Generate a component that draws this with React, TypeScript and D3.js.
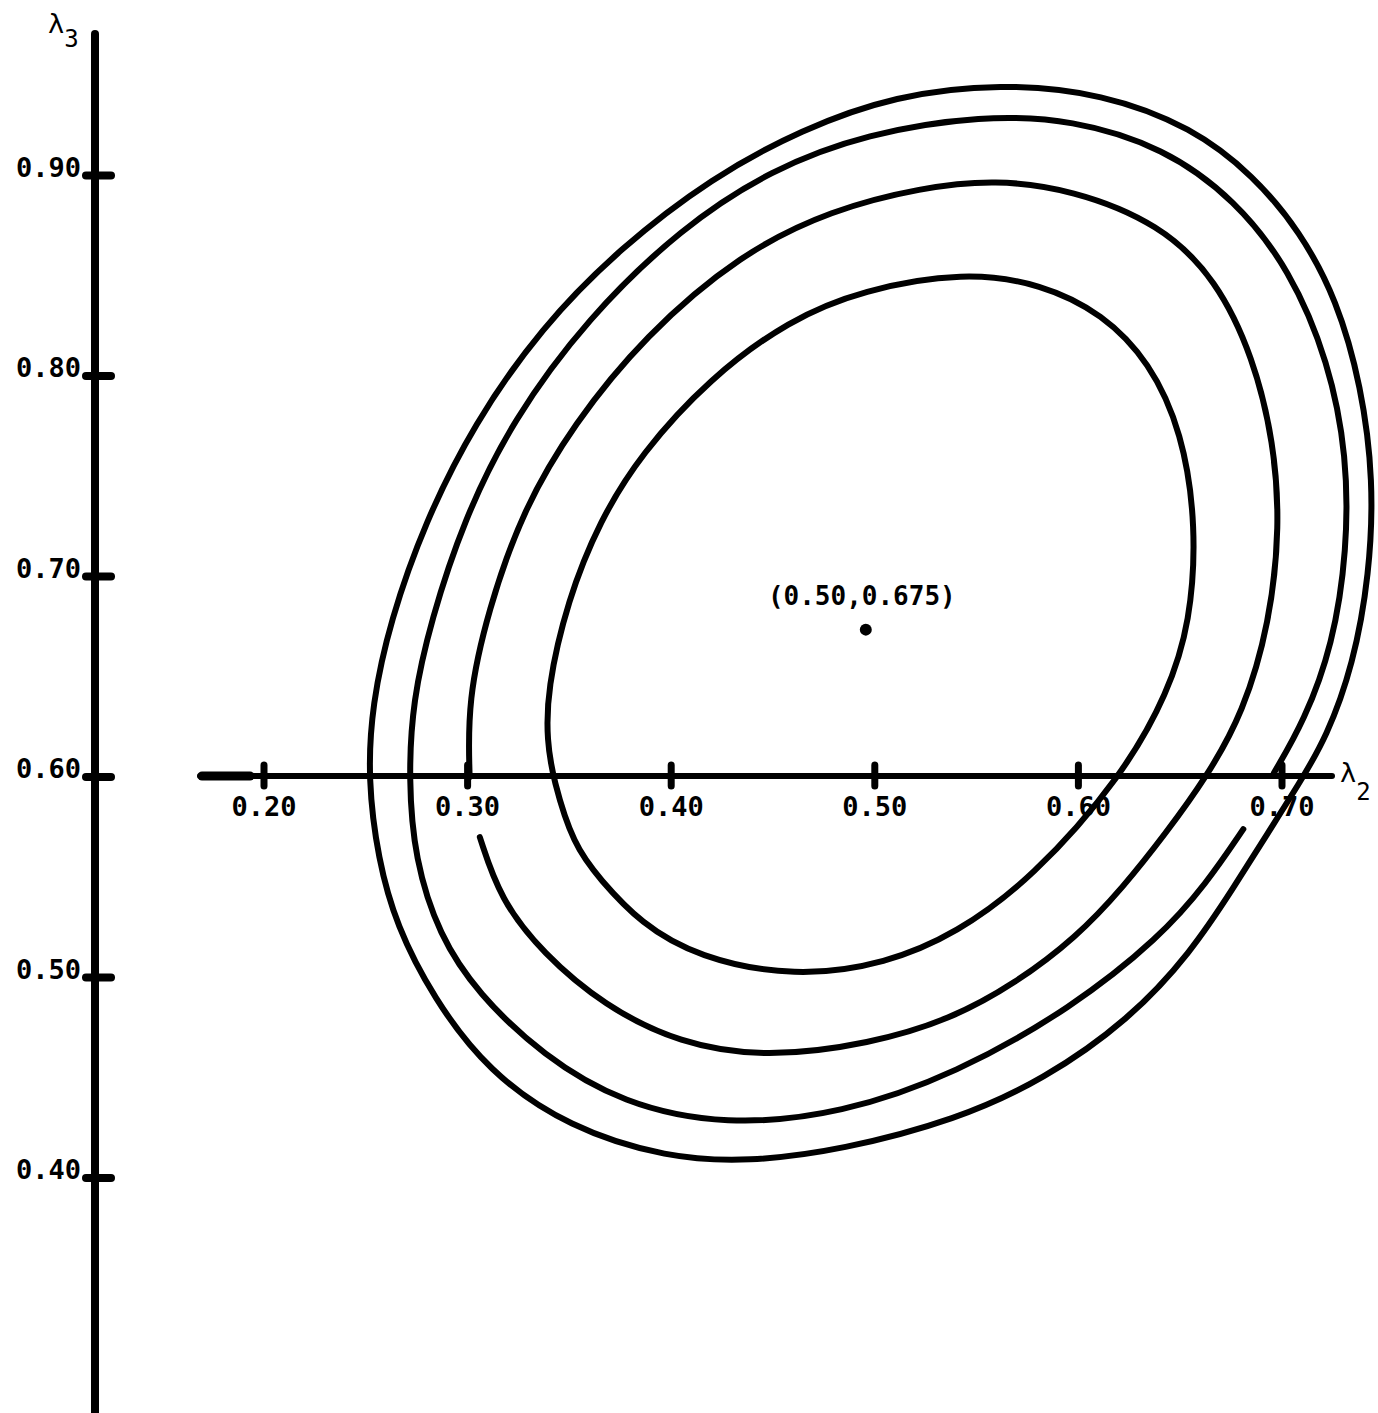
import * as d3 from "d3";
import { useEffect, useRef } from "react";

// axis ticks
const lambda2Ticks = [0.2, 0.3, 0.4, 0.5, 0.6, 0.7];
const lambda3Ticks = [0.4, 0.5, 0.6, 0.7, 0.8, 0.9];

// estimate marked on the plot
const centre = { l2: 0.5, l3: 0.675, label: "(0.50,0.675)" };

// contours, [lambda2, lambda3]
const contour1 = [
	[0.544, 0.852], [0.582, 0.846], [0.612, 0.831], [0.635, 0.807], [0.651, 0.772],
	[0.658, 0.725], [0.655, 0.677], [0.644, 0.642], [0.622, 0.601], [0.577, 0.549],
	[0.54, 0.522], [0.506, 0.507], [0.461, 0.5], [0.413, 0.51], [0.385, 0.527],
	[0.365, 0.549], [0.352, 0.566], [0.342, 0.599], [0.339, 0.618], [0.339, 0.643],
	[0.349, 0.688], [0.365, 0.728], [0.385, 0.761], [0.419, 0.799], [0.458, 0.828],
	[0.494, 0.843]
];

// broken on the left, under the 0.30 label
const contour2 = [
	[0.301, 0.6], [0.3, 0.638], [0.31, 0.683], [0.327, 0.733], [0.352, 0.776],
	[0.387, 0.82], [0.434, 0.861], [0.479, 0.883], [0.523, 0.894], [0.559, 0.898],
	[0.597, 0.893], [0.64, 0.876], [0.668, 0.848], [0.686, 0.809], [0.696, 0.767],
	[0.699, 0.725], [0.694, 0.677], [0.681, 0.632], [0.663, 0.6], [0.643, 0.572],
	[0.622, 0.545], [0.599, 0.52], [0.569, 0.497], [0.537, 0.479], [0.498, 0.467],
	[0.447, 0.46], [0.404, 0.467], [0.367, 0.486], [0.337, 0.512], [0.316, 0.539],
	[0.306, 0.57]
];

// broken on the right, under the 0.70 label
const contour3 = [
	[0.696, 0.602], [0.711, 0.628], [0.725, 0.666], [0.732, 0.713], [0.732, 0.76],
	[0.723, 0.807], [0.704, 0.853], [0.677, 0.888], [0.642, 0.914], [0.597, 0.928],
	[0.553, 0.93], [0.496, 0.921], [0.449, 0.903], [0.405, 0.874], [0.359, 0.829],
	[0.322, 0.778], [0.298, 0.728], [0.282, 0.678], [0.273, 0.638], [0.271, 0.599],
	[0.274, 0.559], [0.286, 0.521], [0.305, 0.492], [0.337, 0.461], [0.376, 0.437],
	[0.427, 0.426], [0.484, 0.432], [0.54, 0.452], [0.597, 0.485], [0.64, 0.52],
	[0.663, 0.547], [0.681, 0.574]
];

const contour4 = [
	[0.562, 0.946], [0.612, 0.941], [0.656, 0.924], [0.686, 0.9], [0.709, 0.872],
	[0.727, 0.838], [0.739, 0.795], [0.745, 0.748], [0.743, 0.701], [0.735, 0.656],
	[0.722, 0.62], [0.708, 0.596], [0.693, 0.572], [0.677, 0.546], [0.655, 0.512],
	[0.625, 0.479], [0.583, 0.449], [0.54, 0.429], [0.484, 0.414], [0.438, 0.408],
	[0.398, 0.41], [0.35, 0.425], [0.31, 0.453], [0.283, 0.49], [0.265, 0.526],
	[0.256, 0.559], [0.251, 0.599], [0.253, 0.636], [0.262, 0.678], [0.279, 0.727],
	[0.303, 0.776], [0.336, 0.824], [0.375, 0.864], [0.42, 0.899], [0.464, 0.923],
	[0.51, 0.94]
];

const closedContours = [contour1, contour4];
const openContours = [contour2, contour3];

const draw = (el) => {
	const width = 1378;
	const height = 1413;
	const font = "'DejaVu Sans Mono', monospace";
	const fmt = d3.format(".2f");

	const x = d3.scaleLinear().domain([0.2, 0.7]).range([264, 1282]);
	const y = d3.scaleLinear().domain([0.4, 0.9]).range([1178, 175.5]);

	const svg = d3
		.select(el)
		.append("svg")
		.attr("width", width)
		.attr("height", height)
		.style("position", "absolute")
		.style("left", 0)
		.style("top", 0)
		.style("background", "#fff");

	// vertical axis
	const axisX = 95;
	svg
		.append("line")
		.attr("x1", axisX)
		.attr("x2", axisX)
		.attr("y1", 34)
		.attr("y2", height + 10)
		.attr("stroke", "#000")
		.attr("stroke-width", 8)
		.attr("stroke-linecap", "round");

	svg
		.selectAll(".ytick")
		.data(lambda3Ticks)
		.enter()
		.append("line")
		.attr("x1", axisX - 9)
		.attr("x2", axisX + 16)
		.attr("y1", d => y(d))
		.attr("y2", d => y(d))
		.attr("stroke", "#000")
		.attr("stroke-width", 8)
		.attr("stroke-linecap", "round");

	svg
		.selectAll(".ylabel")
		.data(lambda3Ticks)
		.enter()
		.append("text")
		.attr("x", axisX - 14)
		.attr("y", d => y(d) + 1)
		.attr("text-anchor", "end")
		.style("font-family", font)
		.style("font-weight", "bold")
		.style("font-size", "27px")
		.text(d => fmt(d));

	const l3 = svg
		.append("text")
		.attr("x", 48)
		.attr("y", 33)
		.style("font-family", font)
		.style("font-size", "27px");
	l3.append("tspan").text("λ");
	l3.append("tspan").attr("dy", 14).style("font-size", "24px").text("3");

	// horizontal axis at lambda3 = 0.60
	const axisY = y(0.6) - 1;
	svg
		.append("line")
		.attr("x1", 200)
		.attr("x2", 1332)
		.attr("y1", axisY)
		.attr("y2", axisY)
		.attr("stroke", "#000")
		.attr("stroke-width", 6)
		.attr("stroke-linecap", "round");
	svg
		.append("line")
		.attr("x1", 202)
		.attr("x2", 250)
		.attr("y1", axisY)
		.attr("y2", axisY)
		.attr("stroke", "#000")
		.attr("stroke-width", 9)
		.attr("stroke-linecap", "round");

	svg
		.selectAll(".xtick")
		.data(lambda2Ticks)
		.enter()
		.append("line")
		.attr("x1", d => x(d))
		.attr("x2", d => x(d))
		.attr("y1", axisY - 11)
		.attr("y2", axisY + 10)
		.attr("stroke", "#000")
		.attr("stroke-width", 7)
		.attr("stroke-linecap", "round");

	svg
		.selectAll(".xlabel")
		.data(lambda2Ticks)
		.enter()
		.append("text")
		.attr("x", d => x(d))
		.attr("y", axisY + 40)
		.attr("text-anchor", "middle")
		.style("font-family", font)
		.style("font-weight", "bold")
		.style("font-size", "27px")
		.text(d => fmt(d));

	const l2 = svg
		.append("text")
		.attr("x", 1340)
		.attr("y", axisY + 6)
		.style("font-family", font)
		.style("font-size", "27px");
	l2.append("tspan").text("λ");
	l2.append("tspan").attr("dy", 18).style("font-size", "24px").text("2");

	// contours
	const closedLine = d3
		.line()
		.x(d => x(d[0]))
		.y(d => y(d[1]))
		.curve(d3.curveBasisClosed);
	const openLine = d3
		.line()
		.x(d => x(d[0]))
		.y(d => y(d[1]))
		.curve(d3.curveBasis);

	svg
		.selectAll(".closed")
		.data(closedContours)
		.enter()
		.append("path")
		.attr("d", closedLine)
		.attr("fill", "none")
		.attr("stroke", "#000")
		.attr("stroke-width", 6);

	svg
		.selectAll(".open")
		.data(openContours)
		.enter()
		.append("path")
		.attr("d", openLine)
		.attr("fill", "none")
		.attr("stroke", "#000")
		.attr("stroke-width", 6)
		.attr("stroke-linecap", "round");

	// centre point
	svg
		.append("circle")
		.attr("cx", x(centre.l2) - 9)
		.attr("cy", y(centre.l3) + 3)
		.attr("r", 6)
		.attr("fill", "#000");

	svg
		.append("text")
		.attr("x", x(centre.l2) - 13)
		.attr("y", y(centre.l3) - 22)
		.attr("text-anchor", "middle")
		.style("font-family", font)
		.style("font-weight", "bold")
		.style("font-size", "26px")
		.text(centre.label);
};

export default function App() {
	const ref = useRef(null);

	useEffect(() => {
		if (!ref.current) return;
		ref.current.innerHTML = "";
		draw(ref.current);
	}, []);

	return <div ref={ref} style={{ width: 1378, height: 1413 }}></div>;
}
